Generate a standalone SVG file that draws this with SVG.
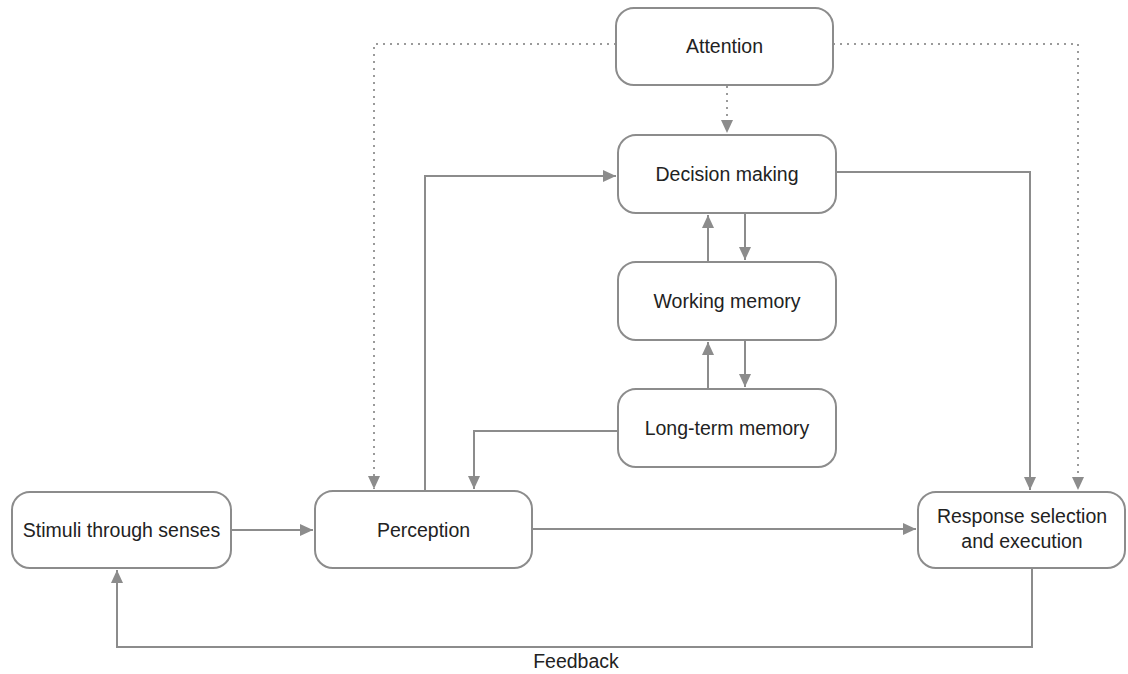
<svg xmlns="http://www.w3.org/2000/svg" width="1128" height="674" viewBox="0 0 1128 674">
<style>
.box{fill:#fff;stroke:#8c8c8c;stroke-width:2}
.lbl{font-family:"Liberation Sans",Arial,sans-serif;font-size:19.5px;fill:#222;text-anchor:middle}
.ln{fill:none;stroke:#8c8c8c;stroke-width:2}
.dot{fill:none;stroke:#9a9a9a;stroke-width:2;stroke-dasharray:2 5}
</style>
<defs>
<marker id="ah" markerUnits="userSpaceOnUse" markerWidth="14" markerHeight="12" refX="13" refY="6" orient="auto">
<path d="M0,0 L13,6 L0,12 Z" fill="#8c8c8c"/>
</marker>
</defs>
<rect width="1128" height="674" fill="#fff"/>
<g id="connectors">
<path class="dot" d="M616,44 H374 V489" marker-end="url(#ah)"/>
<path class="dot" d="M833,44 H1078 V490" marker-end="url(#ah)"/>
<path class="dot" d="M727,86 V133" marker-end="url(#ah)"/>
<path class="ln" d="M425,491 V176 H616" marker-end="url(#ah)"/>
<path class="ln" d="M836,172 H1030 V490" marker-end="url(#ah)"/>
<path class="ln" d="M708,262 V215" marker-end="url(#ah)"/>
<path class="ln" d="M745,213 V260" marker-end="url(#ah)"/>
<path class="ln" d="M708,389 V342" marker-end="url(#ah)"/>
<path class="ln" d="M745,340 V387" marker-end="url(#ah)"/>
<path class="ln" d="M618,431 H474 V489" marker-end="url(#ah)"/>
<path class="ln" d="M231,530 H313" marker-end="url(#ah)"/>
<path class="ln" d="M532,529 H916" marker-end="url(#ah)"/>
<path class="ln" d="M1032,568 V647 H117 V570" marker-end="url(#ah)"/>
</g>
<g id="attention"><rect class="box" x="616" y="8" width="217" height="77" rx="18"/><text class="lbl" x="724.5" y="53">Attention</text></g>
<g id="decision"><rect class="box" x="618" y="135" width="218" height="78" rx="18"/><text class="lbl" x="727" y="181">Decision making</text></g>
<g id="working"><rect class="box" x="618" y="262" width="218" height="78" rx="18"/><text class="lbl" x="727" y="308">Working memory</text></g>
<g id="longterm"><rect class="box" x="618" y="389" width="218" height="78" rx="18"/><text class="lbl" x="727" y="435">Long-term memory</text></g>
<g id="stimuli"><rect class="box" x="12" y="492" width="219" height="76" rx="18"/><text class="lbl" x="121.5" y="537">Stimuli through senses</text></g>
<g id="perception"><rect class="box" x="315" y="491" width="217" height="77" rx="18"/><text class="lbl" x="423.5" y="537">Perception</text></g>
<g id="response"><rect class="box" x="918" y="492" width="207" height="76" rx="18"/><text class="lbl" x="1022" y="523">Response selection</text><text class="lbl" x="1022" y="548">and execution</text></g>
<g id="feedback"><text class="lbl" x="576" y="668">Feedback</text></g>
</svg>
